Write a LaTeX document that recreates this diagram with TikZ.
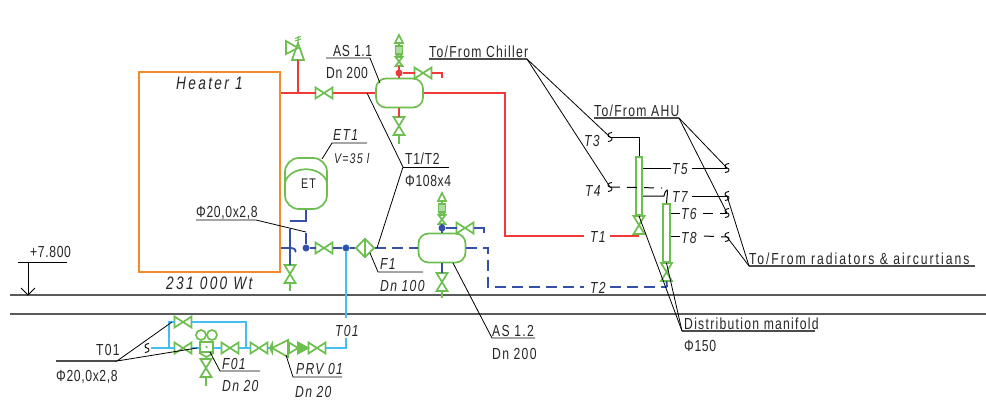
\documentclass[tikz,border=0pt]{standalone}
\usepackage{fontspec}
\usetikzlibrary{shapes.geometric}
\setmainfont{Liberation Sans}[FakeStretch=0.76,LetterSpace=8]
\definecolor{pipered}{HTML}{F03A3A}
\definecolor{pipeblue}{HTML}{3450A8}
\definecolor{pipecyan}{HTML}{45BDF0}
\definecolor{fitgreen}{HTML}{6CBF4E}
\definecolor{heatorange}{HTML}{F58A2A}
\definecolor{floorgray}{HTML}{5A5A5A}
\tikzset{
  x=1pt,y=-1pt,
  red pipe/.style={draw=pipered,line width=1.8pt},
  blue pipe/.style={draw=pipeblue,line width=1.8pt},
  blue dash/.style={blue pipe,dash pattern=on 11pt off 6pt},
  cyan pipe/.style={draw=pipecyan,line width=1.8pt},
  fit line/.style={draw=fitgreen,line width=1.7pt,line join=miter},
  lead/.style={draw=black,line width=.8pt},
  lead dash/.style={lead,line width=1pt,dash pattern=on 10pt off 7pt},
  under/.style={draw=black!70,line width=1.2pt},
  lbl/.style={font=\fontsize{16}{18}\selectfont,inner sep=0pt,anchor=base west,text=black!85},
  lbli/.style={lbl,font=\fontsize{16}{18}\selectfont\itshape},
  lblt/.style={lbl,font=\fontsize{16}{18}\selectfont\addfontfeature{LetterSpace=4}},
  lblw/.style={lbl,font=\fontsize{16}{18}\selectfont\addfontfeature{LetterSpace=12.5}},
  lbliw/.style={lbl,font=\fontsize{18}{20}\selectfont\itshape\addfontfeature{LetterSpace=13}},
  tank/.style={draw=fitgreen,line width=1.7pt,rounded corners=10pt,minimum width=47pt,minimum height=29pt,inner sep=0pt},
  joint/.style={circle,inner sep=0pt,minimum size=7pt},
  valveh/.pic={
    \draw[fit line] (-8.5,-5.5) -- (8.5,5.5) -- (8.5,-5.5) -- (-8.5,5.5) -- cycle;
    \coordinate (-w) at (-8.5,0);
    \coordinate (-e) at (8.5,0);
  },
  valvev/.pic={
    \draw[fit line] (-5.5,-9) -- (5.5,9) -- (-5.5,9) -- (5.5,-9) -- cycle;
    \coordinate (-n) at (0,-9);
    \coordinate (-s) at (0,9);
  },
  vent/.pic={
    \draw[fit line] (0,-31) -- (4,-23) -- (-4,-23) -- cycle;
    \draw[fit line] (0,-23) -- (0,-20);
    \draw[fit line,fill=fitgreen!55] (-3.5,-20) rectangle (3.5,-12);
    \draw[fit line] (-3.5,-12) -- (0,-9);
    \draw[fit line] (3.5,-12) -- (0,-9);
    \draw[fit line] (-3.5,-9) -- (3.5,0) -- (-3.5,0) -- (3.5,-9) -- cycle;
  },
  relief/.pic={
    \draw[fit line] (-6,0) -- (0,-17) -- (6,0) -- cycle;
    \draw[fit line] (-12,-19) -- (0,-12) -- (-12,-6) -- cycle;
    \draw[fit line,line width=1pt] (0,-17) -- (0,-24) (-3,-19) -- (3,-21) (-3,-21.5) -- (3,-23.5);
  },
  brk/.pic={
    \draw[draw=black,line width=.9pt] (2,-4.5) .. controls (-3,-4.5) and (-3,0) .. (0,0) .. controls (3,0) and (3,4.5) .. (-2,4.5);
  },
}
\begin{document}
\begin{tikzpicture}
   \useasboundingbox (0,0) rectangle (986,400);

   \coordinate (FL1) at (10,295);
   \coordinate (FR1) at (986,295);
   \coordinate (FL2) at (10,314);
   \coordinate (FR2) at (986,314);
   \draw[floorgray,line width=1.7pt] (FL1) -- (FR1);
   \draw[floorgray,line width=1.3pt] (FL2) -- (FR2);
   \node (LV) [lblt] at (30,257) {+7.800};
   \coordinate (LVa) at (18,262);
   \coordinate (LVb) at (67,262);
   \coordinate (LVc) at (28,262);
   \coordinate (LVd) at (28,295);
   \draw[lead] (LVa) -- (LVb);
   \draw[lead] (LVc) -- (LVd);
   \draw[lead] (21,288) -- (LVd) -- (35,288);

   \node (H1) [draw=heatorange,line width=2.2pt,minimum width=141pt,minimum height=200pt,inner sep=0pt] at (209.5,172) {};
   \node (H1a) [lbliw] at (176,89) {Heater 1};
   \node (H1b) [lbliw] at (166,289) {231 000 Wt};

   \node (AS1) [tank] at (399.5,93) {};
   \node (AS2) [tank] at (442,248) {};
   \node (ET) [draw=fitgreen,line width=1.7pt,rounded corners=14pt,minimum width=42pt,minimum height=51pt,inner sep=0pt] at (306,183.5) {};
   \node (ETa) [lbl,font=\fontsize{14}{16}\selectfont] at (301,188) {ET};
   \coordinate (ETl) at (285,182);
   \coordinate (ETr) at (327,182);
   \draw[fit line] (ETl) .. controls (291,165) and (321,165) .. (ETr);

   \coordinate (R0) at (H1.east |- AS1);
   \coordinate (R1) at (298,93);
   \coordinate (R2) at (298,60);
   \pic at (R2) {relief};
   \pic (VR) at (324,93) {valveh};
   \draw[red pipe] (R0) -- (VR-w);
   \draw[red pipe] (VR-e) -- (AS1);
   \draw[red pipe] (R1) -- (R2);
   \coordinate (R3) at (505,93);
   \coordinate (R4) at (505,236);
   \coordinate (R5) at (584,236);
   \coordinate (R6) at (610,236);
   \coordinate (R7) at (639,236);
   \node (T1) [lbli] at (590,242) {T1};
   \draw[red pipe] (AS1.east) -- (R3) -- (R4) -- (R5);
   \draw[red pipe] (R6) -- (R7);

   \node (DR) [joint,fill=pipered] at (399,73) {};
   \coordinate (VAa) at (399,66);
   \pic at (VAa) {vent};
   \draw[red pipe] (AS1.north -| DR) -- (VAa);
   \pic (VRa) at (423,73) {valveh};
   \coordinate (R8) at (442,73);
   \coordinate (R9) at (442,78);
   \draw[red pipe] (DR) -- (VRa-w);
   \draw[red pipe] (VRa-e) -- (R8) -- (R9);
   \pic (VRb) at (399,126) {valvev};
   \coordinate (VRc) at (399,144);
   \draw[red pipe] (AS1.south -| VRb-n) -- (VRb-n);
   \draw[fit line] (VRb-s) -- (VRc);

   \node (DB) [joint,fill=pipeblue] at (442,228) {};
   \coordinate (VAb) at (442,224);
   \pic at (VAb) {vent};
   \draw[blue pipe] (AS2.north) -- (VAb);
   \pic (VBa) at (465,228) {valveh};
   \coordinate (B8) at (484,228);
   \coordinate (B9) at (484,233);
   \draw[blue pipe] (DB) -- (VBa-w);
   \draw[blue pipe] (VBa-e) -- (B8) -- (B9);
   \pic (VBb) at (442,282) {valvev};
   \coordinate (VBc) at (442,298);
   \draw[blue pipe] (AS2.south) -- (VBb-n);
   \draw[fit line] (VBb-s) -- (VBc);

   \coordinate (B0) at (H1.east |- 0,248);
   \coordinate (B1) at (291,248);
   \coordinate (B2) at (295,252);
   \draw[blue pipe] (B0) -- (B1) .. controls (296,248) and (296,252) .. (B2);
   \coordinate (B3) at (290,229);
   \coordinate (B4) at (290,221);
   \coordinate (B5) at (306,221);
   \pic (VBd) at (290,274) {valvev};
   \coordinate (VBe) at (290,291);
   \draw[blue pipe] (B4) -- (B5) -- (ET.south);
   \draw[blue pipe] (B3) -- (VBd-n);
   \draw[fit line] (VBd-s) -- (VBe);
   \node (DA) [joint,fill=pipeblue] at (306,248) {};
   \coordinate (B6) at (306,233);
   \draw[blue pipe] (B6) -- (DA);
   \pic (VBf) at (324,248) {valveh};
   \draw[blue pipe] (DA) -- (VBf-w);
   \node (DC) [joint,fill=pipeblue,draw=pipecyan] at (346,248) {};
   \node (F1) [draw=fitgreen,line width=1.7pt,diamond,aspect=1,inner sep=0pt,minimum size=19pt] at (365,248) {};
   \draw[fit line] (F1.north) -- (F1.south);
   \draw[blue pipe] (VBf-e) -- (DC) -- (F1);
   \draw[blue dash] (F1.east) -- (AS2.west);
   \coordinate (B7) at (488,248);
   \coordinate (B10) at (488,287);
   \coordinate (B11) at (584,287);
   \coordinate (B12) at (610,287);
   \coordinate (B13) at (667,287);
   \node (T2) [lbli] at (590,293) {T2};
   \draw[blue dash] (AS2.east) -- (B7) -- (B10) -- (B11);
   \draw[blue dash] (B12) -- (B13);

   \node (MA) [draw=fitgreen,line width=1.7pt,minimum width=6.5pt,minimum height=58pt,inner sep=0pt] at (639,186) {};
   \node (MB) [draw=fitgreen,line width=1.7pt,minimum width=6.5pt,minimum height=58pt,inner sep=0pt] at (666.5,233) {};
   \pic (VM1) at (639,225) {valvev};
   \pic (VM2) at (666.5,272) {valvev};
   \draw[blue pipe] (VM2-s) -- (B13);

   \coordinate (K3) at (610,137);
   \coordinate (K4) at (610,187);
   \coordinate (K5) at (727,168);
   \coordinate (K7) at (727,196);
   \coordinate (K6) at (727,213);
   \coordinate (K8) at (727,237);
   \pic at (K3) {brk};
   \pic at (K4) {brk};
   \pic at (K5) {brk};
   \pic at (K7) {brk};
   \pic at (K6) {brk};
   \pic at (K8) {brk};
   \node (T3) [lbli] at (584,146) {T3};
   \node (T4) [lbli] at (585,196) {T4};
   \node (T5) [lbli] at (672,174) {T5};
   \node (T7) [lbli] at (672,202) {T7};
   \node (T6) [lbli] at (681,219) {T6};
   \node (T8) [lbli] at (681,243) {T8};
   \coordinate (C3) at (639,137);
   \draw[lead,line width=1pt] (K3) -- (C3) -- (MA.north);
   \coordinate (C4) at (662,188);
   \draw[lead dash] (K4) -- (C4);
   \coordinate (C5a) at (671,168);
   \coordinate (C5b) at (692,168);
   \draw[lead,line width=1pt] (MA.east |- C5a) -- (C5a);
   \draw[lead,line width=1pt] (C5b) -- (K5);
   \coordinate (C7a) at (664,196);
   \coordinate (C7b) at (692,196);
   \coordinate (C7c) at (667,190);
   \draw[lead,line width=1pt] (MA.east |- C7a) -- (C7a) .. controls (665,192) and (666,190) .. (C7c) .. controls (668,190) and (667,196) .. (MB.north);
   \draw[lead,line width=1pt] (C7b) -- (K7);
   \coordinate (C6a) at (680,213);
   \coordinate (C6b) at (703,213);
   \draw[lead,line width=1pt] (MB.east |- C6a) -- (C6a);
   \draw[lead dash] (C6b) -- (K6);
   \coordinate (C8a) at (680,236);
   \coordinate (C8b) at (704,236);
   \draw[lead,line width=1pt] (MB.east |- C8a) -- (C8a);
   \draw[lead dash] (C8b) -- (K8);

   \node (TC) [lbl] at (429,57) {To/From Chiller};
   \coordinate (TCa) at (429,59);
   \coordinate (TCb) at (527,59);
   \draw[under] (TCa) -- (TCb);
   \draw[lead] (TCb) -- (K3);
   \draw[lead] (TCb) -- (K4);
   \node (TA) [lbl] at (594,116) {To/From AHU};
   \coordinate (TAa) at (594,118);
   \coordinate (TAb) at (679,118);
   \draw[under] (TAa) -- (TAb);
   \draw[lead] (TAb) -- (K5);
   \draw[lead] (TAb) -- (K6);
   \node (TR) [lblw] at (749,264) {To/From radiators \& aircurtians};
   \coordinate (TRa) at (749,266);
   \coordinate (TRb) at (975,266);
   \draw[under] (TRa) -- (TRb);
   \draw[lead] (TRa) -- (K7);
   \draw[lead] (TRa) -- (K8);
   \node (DM) [lbl] at (684,329) {Distribution manifold};
   \node (DMb) [lblt] at (684,351) {Φ150};
   \coordinate (DMa) at (682,331);
   \coordinate (DMc) at (815,331);
   \draw[under] (DMa) -- (DMc);
   \draw[lead] (DMa) -- (VM1-n);
   \draw[lead] (DMa) -- (VM2-n);

   \node (ASa) [lblt] at (333,56) {AS 1.1};
   \node (ASb) [lblt] at (326,78) {Dn 200};
   \coordinate (ASc) at (326,58);
   \coordinate (ASd) at (370,58);
   \coordinate (ASe) at (380,83);
   \draw[lead] (ASc) -- (ASd) -- (ASe);
   \node (ASf) [lbl] at (492,336) {AS 1.2};
   \node (ASg) [lbl] at (492,359) {Dn 200};
   \coordinate (ASh) at (453,263);
   \coordinate (ASi) at (492,338);
   \coordinate (ASj) at (535,338);
   \draw[lead] (ASh) -- (ASi) -- (ASj);
   \node (ETb) [lbli] at (333,140) {ET1};
   \node (ETc) [lbli,font=\fontsize{14}{16}\selectfont\itshape] at (334,163) {V=35 l};
   \coordinate (ETd) at (367,143);
   \coordinate (ETe) at (332,143);
   \coordinate (ETf) at (322,159);
   \draw[lead] (ETd) -- (ETe) -- (ETf);
   \node (TTa) [lblt] at (405,164) {T1/T2};
   \node (TTb) [lblt] at (405,186) {Φ108x4};
   \coordinate (TTc) at (449,167);
   \coordinate (TTd) at (403,167);
   \coordinate (TTe) at (367,93);
   \coordinate (TTf) at (377,248);
   \draw[lead] (TTc) -- (TTd);
   \draw[lead] (TTe) -- (TTd) -- (TTf);
   \node (F1a) [lbli] at (380,269) {F1};
   \node (F1b) [lbli] at (380,291) {Dn 100};
   \coordinate (F1c) at (370,253);
   \coordinate (F1d) at (378,272);
   \coordinate (F1e) at (423,272);
   \draw[lead] (F1c) -- (F1d) -- (F1e);
   \node (PHa) [lblt] at (196,217) {Φ20,0x2,8};
   \coordinate (PHb) at (196,220);
   \coordinate (PHc) at (256,220);
   \coordinate (PHd) at (306,232);
   \draw[lead] (PHb) -- (PHc) -- (PHd);

   \coordinate (C0) at (346,318);
   \coordinate (C1) at (346,338);
   \coordinate (C2) at (346,348);
   \node (T01) [lbli] at (335,336) {T01};
   \draw[cyan pipe] (DC) -- (C0);
   \pic (VC1) at (317,348) {valveh};
   \pic (VC3) at (259,348) {valveh};
   \pic (VC4) at (230,348) {valveh};
   \pic (VC5) at (183,348) {valveh};
   \pic (VC6) at (183,322) {valveh};
   \coordinate (CA) at (169,348);
   \coordinate (CB) at (169,322);
   \coordinate (CC) at (246,322);
   \coordinate (CD) at (246,348);
   \coordinate (CE) at (151,348);
   \draw[cyan pipe] (C1) -- (C2) -- (VC1-e);
   \draw[cyan pipe] (VC3-e) -- (288,348);
   \draw[cyan pipe] (VC3-w) -- (VC4-e);
   \draw[cyan pipe] (VC4-w) -- (213,348);
   \draw[cyan pipe] (200,348) -- (VC5-e);
   \draw[cyan pipe] (VC5-w) -- (CE);
   \draw[cyan pipe] (CA) -- (CB) -- (VC6-w);
   \draw[cyan pipe] (VC6-e) -- (CC) -- (CD);
   \draw[fit line,fill=fitgreen] (308,348) -- (298,342.5) -- (298,353.5) -- cycle;
   \draw[fit line] (289,342.5) -- (298,348) -- (289,353.5) -- cycle;
   \draw[fit line,fill=white] (288,340) -- (288,357) -- (272,348) -- cycle;
   \draw[fit line,fill=white] (272,344) -- (272,352) -- (270,348) -- cycle;
   \pic at (147,348) {brk};

   \node (FB) [draw=fitgreen,line width=1.7pt,minimum width=13pt,minimum height=10pt,inner sep=0pt] at (206.5,347) {};
   \coordinate (FBa) at (206.5,357);
   \draw[fit line] (FB.south west) -- (FBa) -- (FB.south east);
   \node (FC1) [circle,draw=fitgreen,line width=1.7pt,inner sep=0pt,minimum size=10pt] at (201,335) {};
   \node (FC2) [circle,draw=fitgreen,line width=1.7pt,inner sep=0pt,minimum size=10pt] at (212,335) {};
   \draw[fit line] (FB.north -| FC1) -- (FC1.south);
   \draw[fit line] (FB.north -| FC2) -- (FC2.south);
   \node (FD) [circle,fill=fitgreen,inner sep=0pt,minimum size=2.5pt] at (FB) {};
   \pic (VF) at (206,368) {valvev};
   \coordinate (VFa) at (206,386);
   \draw[fit line] (VF-s) -- (VFa);

   \node (LA) [lbl] at (96,355) {T01};
   \node (LB) [lblt] at (56,381) {Φ20,0x2,8};
   \coordinate (LC) at (56,361);
   \coordinate (LD) at (117,361);
   \coordinate (LE) at (172,322);
   \coordinate (LF) at (197,348);
   \draw[under] (LC) -- (LD);
   \draw[lead] (LE) -- (LD) -- (LF);
   \node (LG) [lbli] at (222,369) {F01};
   \node (LH) [lbli] at (222,391) {Dn 20};
   \coordinate (LI) at (210,352);
   \coordinate (LJ) at (220,371);
   \coordinate (LK) at (260,371);
   \draw[lead] (LI) -- (LJ) -- (LK);
   \node (LL) [lbli] at (296,374) {PRV 01};
   \node (LM) [lbli] at (295,397) {Dn 20};
   \coordinate (LN) at (286,355);
   \coordinate (LO) at (293,377);
   \coordinate (LP) at (342,377);
   \draw[lead] (LN) -- (LO) -- (LP);
\end{tikzpicture}
\end{document}
